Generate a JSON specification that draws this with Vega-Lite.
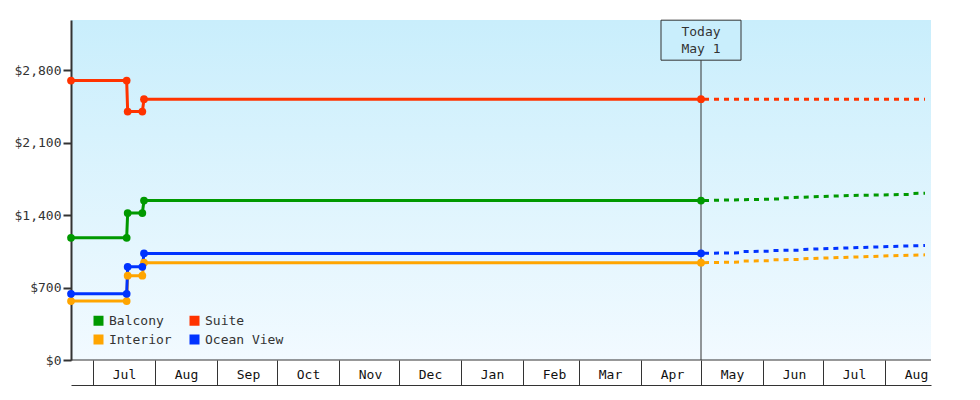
{
  "$schema": "https://vega.github.io/schema/vega-lite/v6.json",
  "width": 860,
  "height": 340,
  "autosize": {"type": "none"},
  "padding": {"left": 71, "top": 20, "right": 49, "bottom": 40},
  "background": "white",
  "config": {
    "font": "DejaVu Sans Mono",
    "view": {
      "stroke": null,
      "fill": {
        "gradient": "linear",
        "x1": 0, "y1": 0, "x2": 0, "y2": 1,
        "stops": [
          {"offset": 0, "color": "#c9eefc"},
          {"offset": 1, "color": "#f2faff"}
        ]
      }
    },
    "legend": {
      "orient": "none",
      "legendX": 21,
      "legendY": 294,
      "direction": "vertical",
      "columns": 2,
      "columnPadding": 16,
      "rowPadding": 5,
      "symbolType": "square",
      "symbolSize": 100,
      "symbolStrokeWidth": 0,
      "symbolOpacity": 1,
      "labelFontSize": 13,
      "labelColor": "#333",
      "labelOffset": 4
    }
  },
  "data": {
    "values": [
      {"date": "2022-06-20T00:00", "price": 1180, "room": "Balcony", "kind": "actual"},
      {"date": "2022-07-17T20:00", "price": 1180, "room": "Balcony", "kind": "actual"},
      {"date": "2022-07-18T08:00", "price": 1420, "room": "Balcony", "kind": "actual"},
      {"date": "2022-07-25T16:00", "price": 1420, "room": "Balcony", "kind": "actual"},
      {"date": "2022-07-26T12:00", "price": 1540, "room": "Balcony", "kind": "actual"},
      {"date": "2023-05-01T00:00", "price": 1540, "room": "Balcony", "kind": "actual"},
      {"date": "2022-06-20T00:00", "price": 2700, "room": "Suite", "kind": "actual"},
      {"date": "2022-07-17T20:00", "price": 2700, "room": "Suite", "kind": "actual"},
      {"date": "2022-07-18T08:00", "price": 2400, "room": "Suite", "kind": "actual"},
      {"date": "2022-07-25T16:00", "price": 2400, "room": "Suite", "kind": "actual"},
      {"date": "2022-07-26T12:00", "price": 2520, "room": "Suite", "kind": "actual"},
      {"date": "2023-05-01T00:00", "price": 2520, "room": "Suite", "kind": "actual"},
      {"date": "2022-06-20T00:00", "price": 570, "room": "Interior", "kind": "actual"},
      {"date": "2022-07-17T20:00", "price": 570, "room": "Interior", "kind": "actual"},
      {"date": "2022-07-18T08:00", "price": 815, "room": "Interior", "kind": "actual"},
      {"date": "2022-07-25T16:00", "price": 815, "room": "Interior", "kind": "actual"},
      {"date": "2022-07-26T12:00", "price": 940, "room": "Interior", "kind": "actual"},
      {"date": "2023-05-01T00:00", "price": 940, "room": "Interior", "kind": "actual"},
      {"date": "2022-06-20T00:00", "price": 640, "room": "Ocean View", "kind": "actual"},
      {"date": "2022-07-17T20:00", "price": 640, "room": "Ocean View", "kind": "actual"},
      {"date": "2022-07-18T08:00", "price": 900, "room": "Ocean View", "kind": "actual"},
      {"date": "2022-07-25T16:00", "price": 900, "room": "Ocean View", "kind": "actual"},
      {"date": "2022-07-26T12:00", "price": 1030, "room": "Ocean View", "kind": "actual"},
      {"date": "2023-05-01T00:00", "price": 1030, "room": "Ocean View", "kind": "actual"},
      {"date": "2023-05-01T00:00", "price": 1540, "room": "Balcony", "kind": "forecast"},
      {"date": "2023-06-09T00:00", "price": 1556, "room": "Balcony", "kind": "forecast"},
      {"date": "2023-06-10T00:00", "price": 1566, "room": "Balcony", "kind": "forecast"},
      {"date": "2023-07-01T00:00", "price": 1580, "room": "Balcony", "kind": "forecast"},
      {"date": "2023-07-16T00:00", "price": 1590, "room": "Balcony", "kind": "forecast"},
      {"date": "2023-08-14T00:00", "price": 1600, "room": "Balcony", "kind": "forecast"},
      {"date": "2023-08-15T00:00", "price": 1609, "room": "Balcony", "kind": "forecast"},
      {"date": "2023-08-21T00:00", "price": 1611, "room": "Balcony", "kind": "forecast"},
      {"date": "2023-05-01T00:00", "price": 2520, "room": "Suite", "kind": "forecast"},
      {"date": "2023-08-21T00:00", "price": 2520, "room": "Suite", "kind": "forecast"},
      {"date": "2023-05-01T00:00", "price": 1030, "room": "Ocean View", "kind": "forecast"},
      {"date": "2023-05-21T00:00", "price": 1036, "room": "Ocean View", "kind": "forecast"},
      {"date": "2023-05-22T00:00", "price": 1048, "room": "Ocean View", "kind": "forecast"},
      {"date": "2023-06-05T00:00", "price": 1051, "room": "Ocean View", "kind": "forecast"},
      {"date": "2023-06-06T00:00", "price": 1058, "room": "Ocean View", "kind": "forecast"},
      {"date": "2023-06-19T00:00", "price": 1061, "room": "Ocean View", "kind": "forecast"},
      {"date": "2023-06-20T00:00", "price": 1068, "room": "Ocean View", "kind": "forecast"},
      {"date": "2023-07-05T00:00", "price": 1077, "room": "Ocean View", "kind": "forecast"},
      {"date": "2023-07-20T00:00", "price": 1087, "room": "Ocean View", "kind": "forecast"},
      {"date": "2023-08-04T00:00", "price": 1097, "room": "Ocean View", "kind": "forecast"},
      {"date": "2023-08-21T00:00", "price": 1106, "room": "Ocean View", "kind": "forecast"},
      {"date": "2023-05-01T00:00", "price": 940, "room": "Interior", "kind": "forecast"},
      {"date": "2023-05-21T00:00", "price": 946, "room": "Interior", "kind": "forecast"},
      {"date": "2023-05-22T00:00", "price": 956, "room": "Interior", "kind": "forecast"},
      {"date": "2023-06-05T00:00", "price": 960, "room": "Interior", "kind": "forecast"},
      {"date": "2023-06-06T00:00", "price": 968, "room": "Interior", "kind": "forecast"},
      {"date": "2023-06-19T00:00", "price": 972, "room": "Interior", "kind": "forecast"},
      {"date": "2023-06-20T00:00", "price": 978, "room": "Interior", "kind": "forecast"},
      {"date": "2023-07-05T00:00", "price": 987, "room": "Interior", "kind": "forecast"},
      {"date": "2023-07-20T00:00", "price": 997, "room": "Interior", "kind": "forecast"},
      {"date": "2023-08-04T00:00", "price": 1007, "room": "Interior", "kind": "forecast"},
      {"date": "2023-08-21T00:00", "price": 1016, "room": "Interior", "kind": "forecast"},
      {"date": "2023-05-01T00:00", "price": 3090, "kind": "today", "label": "Today\nMay 1"}
    ]
  },
  "encoding": {
    "x": {
      "field": "date",
      "type": "temporal",
      "scale": {
        "domain": [
          {"year": 2022, "month": 6, "date": 20},
          {"year": 2023, "month": 8, "date": 24}
        ],
        "nice": false
      },
      "axis": {
        "title": null,
        "orient": "bottom",
        "offset": 25,
        "format": "%b",
        "tickCount": {"interval": "month", "step": 1},
        "grid": false,
        "tickSize": -25,
        "tickColor": "#333",
        "tickWidth": 1,
        "domainColor": "#333",
        "domainWidth": 1,
        "labelOffset": 31,
        "labelPadding": 18,
        "labelBaseline": "alphabetic",
        "labelFontSize": 13,
        "labelColor": "#111",
        "labelFlush": false,
        "labelOverlap": false,
        "labelBound": false
      }
    },
    "y": {
      "field": "price",
      "type": "quantitative",
      "scale": {"domain": [0, 3285], "nice": false},
      "axis": {
        "title": null,
        "values": [0, 700, 1400, 2100, 2800],
        "format": "$,d",
        "grid": false,
        "domainColor": "#333",
        "domainWidth": 2,
        "tickColor": "#333",
        "tickWidth": 2,
        "tickSize": 8,
        "labelPadding": 2,
        "labelFontSize": 13,
        "labelColor": "#333"
      }
    }
  },
  "layer": [
    {
      "transform": [{"filter": "datum.kind == 'today'"}],
      "mark": {"type": "rule", "color": "#333", "strokeWidth": 1},
      "encoding": {
        "x": null,
        "y": {"datum": 0, "type": "quantitative"}
      }
    },
    {
      "transform": [{"filter": "datum.kind == 'today'"}],
      "mark": {"type": "rule", "color": "#333", "strokeWidth": 1},
      "encoding": {
        "y": {"datum": 0, "type": "quantitative"},
        "y2": {"datum": 2903}
      }
    },
    {
      "transform": [{"filter": "datum.kind == 'forecast'"}],
      "mark": {"type": "line", "strokeWidth": 3, "strokeDash": [5, 5], "strokeDashOffset": -3},
      "encoding": {
        "color": {
          "field": "room",
          "type": "nominal",
          "title": null,
          "scale": {
            "domain": ["Balcony", "Interior", "Suite", "Ocean View"],
            "range": ["#009900", "#ffa500", "#ff3300", "#0033ff"]
          }
        }
      }
    },
    {
      "transform": [{"filter": "datum.kind == 'actual'"}],
      "mark": {"type": "line", "strokeWidth": 3},
      "encoding": {
        "color": {
          "field": "room",
          "type": "nominal",
          "title": null,
          "scale": {
            "domain": ["Balcony", "Interior", "Suite", "Ocean View"],
            "range": ["#009900", "#ffa500", "#ff3300", "#0033ff"]
          }
        }
      }
    },
    {
      "transform": [{"filter": "datum.kind == 'actual'"}],
      "mark": {"type": "point", "filled": true, "size": 60, "opacity": 1},
      "encoding": {
        "color": {
          "field": "room",
          "type": "nominal",
          "title": null,
          "scale": {
            "domain": ["Balcony", "Interior", "Suite", "Ocean View"],
            "range": ["#009900", "#ffa500", "#ff3300", "#0033ff"]
          }
        }
      }
    },
    {
      "transform": [{"filter": "datum.kind == 'today'"}],
      "mark": {
        "type": "point",
        "shape": "M-1,-0.5H1V0.5H-1Z",
        "size": 6400,
        "filled": true,
        "fill": "#c9eefc",
        "fillOpacity": 1,
        "opacity": 1,
        "stroke": "#333",
        "strokeWidth": 1
      }
    },
    {
      "transform": [{"filter": "datum.kind == 'today'"}],
      "mark": {"type": "text", "lineBreak": "\n", "lineHeight": 17, "fontSize": 13, "color": "#333", "align": "center", "baseline": "middle", "dy": -8},
      "encoding": {
        "text": {"field": "label"}
      }
    }
  ]
}
